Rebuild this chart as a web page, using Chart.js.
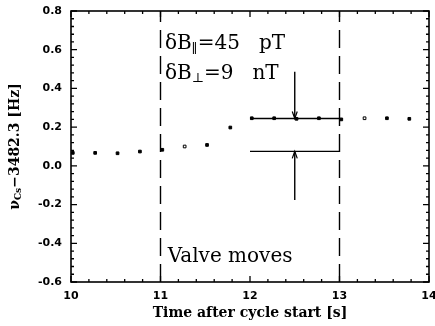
<!DOCTYPE html>
<html>
<head>
<meta charset="utf-8">
<script src="https://cdn.jsdelivr.net/npm/chart.js@4.4.1/dist/chart.umd.min.js"></script>
<style>
  html, body { margin: 0; padding: 0; background: #fff; }
  #wrap { width: 435px; height: 326px; }
</style>
</head>
<body>
<div id="wrap"><canvas id="chart"></canvas></div>
<script>
// Cs magnetometer frequency around the valve movement
const times = [10.02, 10.27, 10.52, 10.77, 11.02, 11.27, 11.52, 11.78, 12.02, 12.27, 12.52, 12.77, 13.02, 13.28, 13.53, 13.78];
const freqs = [0.067, 0.067, 0.065, 0.074, 0.083, 0.100, 0.108, 0.198, 0.246, 0.246, 0.243, 0.246, 0.240, 0.246, 0.246, 0.243];
const hollow = [false, false, false, false, false, true, false, false, false, false, false, false, false, true, false, false];

// levels before / after the shift, and where they are marked
const levelSpan = [12, 13];
const levelHigh = 0.245;
const levelLow = 0.075;
const arrowX = 12.5;
const arrowDownFrom = 0.486;
const arrowUpFrom = -0.176;

// valve window
const valveTimes = [11, 13];

const xTicks = [10, 11, 12, 13, 14];
const yTicks = [-0.6, -0.4, -0.2, 0.0, 0.2, 0.4, 0.6, 0.8];

const tickFont = { family: 'DejaVu Sans', size: 11, weight: 'bold' };

function seg(x0, y0, x1, y1) {
    return [{ x: x0, y: y0 }, { x: x1, y: y1 }];
}

const lineStyle = {
    showLine: true,
    borderColor: '#000',
    borderWidth: 1.4,
    pointRadius: 0,
    fill: false
};

const datasets = [
    {
        label: 'freq',
        data: times.map((t, i) => ({ x: t, y: freqs[i] })),
        pointStyle: 'rect',
        pointRadius: 1.9,
        borderWidth: 1,
        borderColor: '#000',
        pointBackgroundColor: hollow.map(h => h ? '#fff' : '#000'),
        showLine: false
    },
    Object.assign({ data: seg(levelSpan[0], levelHigh, levelSpan[1], levelHigh) }, lineStyle),
    Object.assign({ data: seg(levelSpan[0], levelLow, levelSpan[1], levelLow) }, lineStyle),
    Object.assign({ data: seg(arrowX, arrowDownFrom, arrowX, levelHigh) }, lineStyle),
    Object.assign({ data: seg(arrowX, arrowUpFrom, arrowX, levelLow) }, lineStyle),
    ...valveTimes.map(t => Object.assign({ data: seg(t, yTicks[0], t, yTicks[yTicks.length - 1]), borderDash: [18, 8] }, lineStyle))
];

// draw text made of runs with their own font and baseline shift
function drawRuns(ctx, x, y, runs) {
    let cx = x;
    runs.forEach(r => {
        ctx.font = r.font;
        ctx.fillText(r.text, cx, y + (r.dy || 0));
        cx += ctx.measureText(r.text).width + (r.gap || 0);
    });
}

const frameTicks = {
    id: 'frameTicks',
    afterDatasetsDraw(chart) {
        const { ctx, chartArea: a, scales: { x, y } } = chart;
        ctx.save();
        ctx.strokeStyle = '#000';
        ctx.lineWidth = 1.6;
        ctx.strokeRect(a.left, a.top, a.right - a.left, a.bottom - a.top);

        ctx.lineWidth = 1.3;
        ctx.beginPath();
        const nx = Math.round((x.max - x.min) / 0.2);
        for (let i = 0; i <= nx; i++) {
            const px = x.getPixelForValue(x.min + i * 0.2);
            const len = i % 5 === 0 ? 6 : 3;
            ctx.moveTo(px, a.bottom); ctx.lineTo(px, a.bottom - len);
            ctx.moveTo(px, a.top); ctx.lineTo(px, a.top + len);
        }
        const ny = Math.round((y.max - y.min) / 0.04);
        for (let i = 0; i <= ny; i++) {
            const py = y.getPixelForValue(y.min + i * 0.04);
            const len = i % 5 === 0 ? 6 : 3;
            ctx.moveTo(a.left, py); ctx.lineTo(a.left + len, py);
            ctx.moveTo(a.right, py); ctx.lineTo(a.right - len, py);
        }
        ctx.stroke();

        // arrow heads
        const ax = x.getPixelForValue(arrowX);
        const hy = y.getPixelForValue(levelHigh);
        const ly = y.getPixelForValue(levelLow);
        ctx.lineWidth = 1.2;
        ctx.beginPath();
        ctx.moveTo(ax - 2.5, hy - 7); ctx.lineTo(ax, hy); ctx.lineTo(ax + 2.5, hy - 7);
        ctx.moveTo(ax - 2.5, ly + 7); ctx.lineTo(ax, ly); ctx.lineTo(ax + 2.5, ly + 7);
        ctx.stroke();

        // annotations
        ctx.fillStyle = '#000';
        ctx.textBaseline = 'middle';
        ctx.textAlign = 'left';
        const big = '20px "DejaVu Serif"';
        const sub = '13px "DejaVu Serif"';
        const tx = x.getPixelForValue(11.05);
        drawRuns(ctx, tx, y.getPixelForValue(0.63), [
            { text: 'δB', font: big },
            { text: '∥', font: sub, dy: 6 },
            { text: '=45   pT', font: big }
        ]);
        drawRuns(ctx, tx, y.getPixelForValue(0.475), [
            { text: 'δB', font: big },
            { text: '⊥', font: sub, dy: 5 },
            { text: '=9   nT', font: big }
        ]);
        drawRuns(ctx, x.getPixelForValue(11.08), y.getPixelForValue(-0.47), [
            { text: 'Valve moves', font: big }
        ]);

        // y axis title with subscript
        ctx.translate(15, (a.top + a.bottom) / 2);
        ctx.rotate(-Math.PI / 2);
        const main = 'bold 14px "DejaVu Serif"';
        const small = 'bold 9px "DejaVu Serif"';
        const runs = [
            { text: 'ν', font: main },
            { text: 'Cs', font: small, dy: 4 },
            { text: '−3482.3 [Hz]', font: main }
        ];
        let w = 0;
        runs.forEach(r => { ctx.font = r.font; w += ctx.measureText(r.text).width; });
        drawRuns(ctx, -w / 2, 0, runs);
        ctx.restore();
    }
};

new Chart(document.getElementById('chart'), {
    type: 'scatter',
    data: { datasets },
    options: {
        responsive: true,
        maintainAspectRatio: false,
        animation: false,
        layout: { padding: { left: 0, top: 11, right: 6, bottom: 0 } },
        plugins: {
            legend: { display: false },
            tooltip: { enabled: false }
        },
        scales: {
            x: {
                type: 'linear',
                min: xTicks[0],
                max: xTicks[xTicks.length - 1],
                afterBuildTicks: s => { s.ticks = xTicks.map(v => ({ value: v })); },
                afterFit: s => {
                    s.height = 44;
                    s.paddingLeft = 0;
                    s.paddingRight = 0;
                },
                grid: { display: false, drawTicks: false },
                border: { display: false },
                ticks: { color: '#000', font: tickFont, padding: 8, maxRotation: 0 },
                title: {
                    display: true,
                    text: 'Time after cycle start [s]',
                    color: '#000',
                    font: { family: 'DejaVu Serif', size: 14, weight: 'bold' },
                    padding: { top: 0, bottom: 4 }
                }
            },
            y: {
                type: 'linear',
                min: yTicks[0],
                max: yTicks[yTicks.length - 1],
                afterBuildTicks: s => { s.ticks = yTicks.map(v => ({ value: v })); },
                afterFit: s => {
                    s.width = 71;
                    s.paddingTop = 0;
                    s.paddingBottom = 0;
                },
                grid: { display: false, drawTicks: false },
                border: { display: false },
                ticks: {
                    color: '#000',
                    font: tickFont,
                    padding: 9,
                    callback: v => v.toFixed(1)
                }
            }
        }
    },
    plugins: [frameTicks]
});
</script>
</body>
</html>
